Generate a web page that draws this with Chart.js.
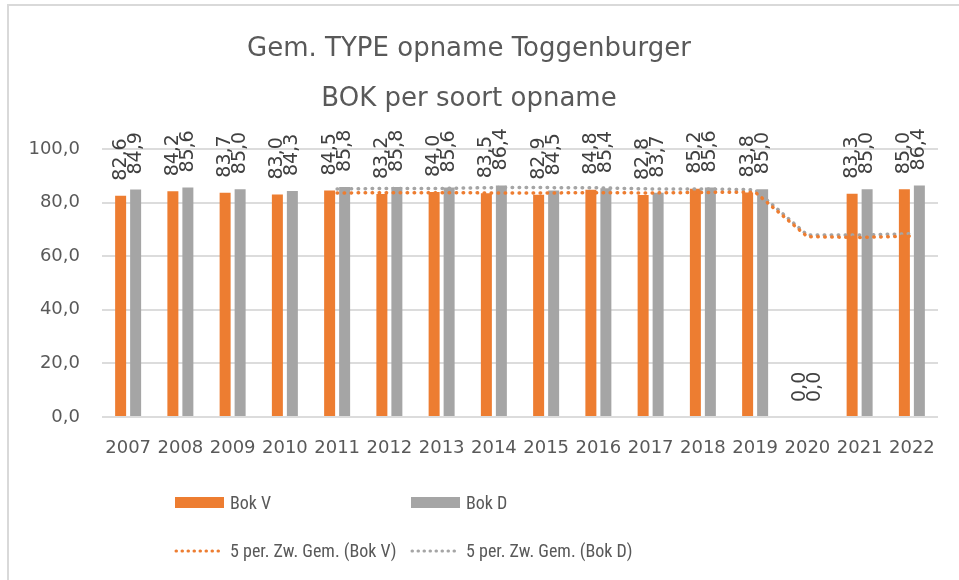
<!DOCTYPE html>
<html>
<head>
<meta charset="utf-8">
<script src="https://cdn.jsdelivr.net/npm/chart.js@4/dist/chart.umd.min.js"></script>
<style>
  html, body { margin: 0; padding: 0; background: #ffffff; }
  #wrap { position: relative; width: 959px; height: 580px; }
</style>
</head>
<body>
<div id="wrap"><canvas id="chart" width="959" height="580"></canvas></div>
<script>
YEARS = ['2007', '2008', '2009', '2010', '2011', '2012', '2013', '2014',
         '2015', '2016', '2017', '2018', '2019', '2020', '2021', '2022']
BOK_V = [82.6, 84.2, 83.7, 83.0, 84.5, 83.2, 84.0, 83.5, 82.9, 84.8, 82.8, 85.2, 83.8, 0.0, 83.3, 85.0]
BOK_D = [84.9, 85.6, 85.0, 84.3, 85.8, 85.8, 85.6, 86.4, 84.5, 85.4, 83.7, 85.6, 85.0, 0.0, 85.0, 86.4]
// 5 per. zwevend gemiddelde
AVG_V = [null, null, null, null, 83.6, 83.7, 83.7, 83.6, 83.6, 83.7, 83.6, 83.8, 83.9, 67.3, 67.0, 67.5]
AVG_D = [null, null, null, null, 85.1, 85.3, 85.3, 85.6, 85.6, 85.5, 85.1, 85.1, 84.8, 67.9, 67.9, 68.4]
Y_TICKS = [0, 20, 40, 60, 80, 100]

const ORANGE = '#ED7D31';
const GREY = '#A5A5A5';
const TEXT = '#595959';
const FONT = "'DejaVu Sans', sans-serif";
const LEGEND_FONT = "'Liberation Sans Narrow', 'Roboto Condensed', Roboto, sans-serif";

const fmt = (v) => v.toFixed(1).replace('.', ',');

// white page + the light frame on the left and top edge
const framePlugin = {
    id: 'frame',
    beforeDraw: (chart) => {
        const ctx = chart.ctx;
        ctx.save();
        ctx.fillStyle = '#ffffff';
        ctx.fillRect(0, 0, chart.width, chart.height);
        ctx.fillStyle = '#d9d9d9';
        ctx.fillRect(7, 4, chart.width - 7, 2);
        ctx.fillRect(7, 4, 2, chart.height - 4);
        ctx.restore();
    }
}

// rotated value labels above every bar
const barLabels = {
    id: 'barLabels',
    afterDatasetsDraw: (chart) => {
        const ctx = chart.ctx;
        ctx.save();
        ctx.font = '19px ' + FONT;
        ctx.fillStyle = '#404040';
        ctx.textAlign = 'left';
        ctx.textBaseline = 'middle';
        chart.data.datasets.forEach((ds, i) => {
            if (ds.type !== 'bar') return;
            chart.getDatasetMeta(i).data.forEach((bar, j) => {
                ctx.save();
                ctx.translate(bar.x, bar.y - 15);
                ctx.rotate(-Math.PI / 2);
                ctx.fillText(fmt(ds.data[j]), 0, 0);
                ctx.restore();
            })
        })
        ctx.restore();
    }
}

// legend laid out as a 2x2 grid like the original
const gridLegend = {
    id: 'gridLegend',
    afterDraw: (chart) => {
        const ctx = chart.ctx;
        const cols = [175, 411];
        const rows = [503, 551];
        ctx.save();
        // the longest entry has to fit between the two columns (about 171px)
        let size = 19;
        ctx.font = size + 'px ' + LEGEND_FONT;
        const widest = Math.max(...chart.data.datasets.map((ds) => ctx.measureText(ds.label).width));
        if (widest > 172) {
            size = Math.floor(size * 172 / widest);
            ctx.font = size + 'px ' + LEGEND_FONT;
        }
        ctx.textBaseline = 'middle';
        chart.data.datasets.forEach((ds, i) => {
            const x = cols[i % 2];
            const y = rows[Math.floor(i / 2)];
            if (ds.type === 'bar') {
                ctx.fillStyle = ds.backgroundColor;
                ctx.fillRect(x, y - 6, 49, 11);
            } else {
                ctx.strokeStyle = ds.borderColor;
                ctx.lineWidth = 3;
                ctx.lineCap = 'round';
                ctx.setLineDash([0.5, 5.5]);
                ctx.beginPath();
                ctx.moveTo(x + 1, y);
                ctx.lineTo(x + 48, y);
                ctx.stroke();
                ctx.setLineDash([]);
            }
            ctx.fillStyle = TEXT;
            ctx.fillText(ds.label, x + 55, y + 1);
        })
        ctx.restore();
    }
}

const trendLine = (label, data, color) => ({
    type: 'line',
    label: label,
    data: data,
    borderColor: color,
    backgroundColor: color,
    borderWidth: 3.5,
    borderDash: [0.5, 6.5],
    borderCapStyle: 'round',
    pointRadius: 0,
    tension: 0,
    order: 0
})

const generateGraph = () => {
    const ctx = document.getElementById('chart').getContext('2d');
    new Chart(ctx, {
        type: 'bar',
        data: {
            labels: YEARS,
            datasets: [
                { type: 'bar', label: 'Bok V', data: BOK_V, backgroundColor: ORANGE, order: 1 },
                { type: 'bar', label: 'Bok D', data: BOK_D, backgroundColor: GREY, order: 1 },
                trendLine('5 per. Zw. Gem. (Bok V)', AVG_V, ORANGE),
                trendLine('5 per. Zw. Gem. (Bok D)', AVG_D, GREY)
            ]
        },
        options: {
            responsive: false,
            animation: false,
            categoryPercentage: 0.574,
            barPercentage: 0.733,
            layout: { padding: { left: 0, right: 21, top: 0, bottom: 0 } },
            plugins: {
                legend: { display: false },
                tooltip: { enabled: false },
                title: {
                    display: true,
                    text: ['Gem. TYPE opname Toggenburger', 'BOK per soort opname'],
                    color: TEXT,
                    font: { family: FONT, size: 26, weight: 'normal', lineHeight: 50 / 26 },
                    padding: { top: 24, bottom: 25 }
                }
            },
            scales: {
                x: {
                    grid: { display: false, drawTicks: false },
                    border: { display: false },
                    ticks: { color: TEXT, font: { family: FONT, size: 18 }, padding: 21, maxRotation: 0, autoSkip: false },
                    afterFit: (scale) => { scale.height = 163; }
                },
                y: {
                    min: 0,
                    max: 100,
                    afterBuildTicks: (scale) => { scale.ticks = Y_TICKS.map((v) => ({ value: v })); },
                    grid: { color: '#dcdcdc', lineWidth: 2, drawTicks: false },
                    border: { display: false },
                    ticks: { color: TEXT, font: { family: FONT, size: 18 }, padding: 22, callback: (v) => fmt(v) },
                    afterFit: (scale) => { scale.width = 102; }
                }
            }
        },
        plugins: [framePlugin, barLabels, gridLegend]
    });
}

generateGraph()
</script>
</body>
</html>
